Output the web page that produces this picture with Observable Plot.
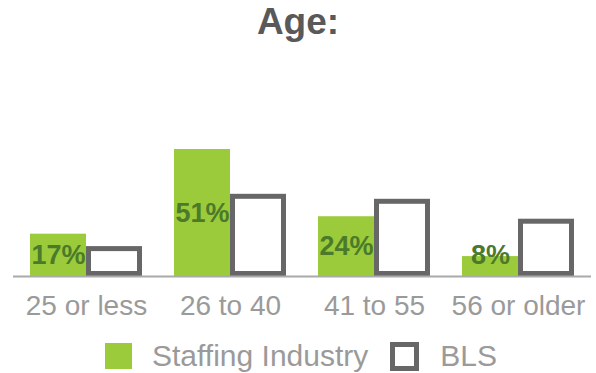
<!DOCTYPE html>
<html>
<head>
<meta charset="utf-8">
<script src="https://cdn.jsdelivr.net/npm/d3@7"></script>
<script src="https://cdn.jsdelivr.net/npm/@observablehq/plot@0.6"></script>
<style>
  html, body { margin: 0; padding: 0; background: #fff; overflow: hidden; }
  body { width: 596px; height: 373px; font-family: "Liberation Sans", Arial, sans-serif; }
  #title { height: 44px; line-height: 44px; text-align: center; font-size: 37px; font-weight: bold; color: #595959; }
  #legend { height: 48px; display: flex; justify-content: center; align-items: center; color: #9a9a9a; font-size: 30px; padding-left: 6px; }
  .sw { display: inline-block; box-sizing: border-box; }
  .item { display: flex; align-items: center; }
</style>
</head>
<body>
<div id="title">Age:</div>
<div id="chart"></div>
<div id="legend"></div>
<script>
const categories = ["25 or less", "26 to 40", "41 to 55", "56 or older"];
const staffing = [17, 51, 24, 8];
const bls = [11, 32, 30, 22];
const staffingLabels = ["17%", "51%", "24%", "8%"];
const seriesNames = ["Staffing Industry", "BLS"];

const GREEN = "#9bcb3b";
const LABEL_GREEN = "#4b7a2a";
const BOX = "#676767";

const staffingData = categories.map((c, i) => ({cat: c, v: staffing[i], label: staffingLabels[i]}));
const blsData = categories.map((c, i) => ({cat: c, v: bls[i]}));

const chart = Plot.plot({
  width: 596,
  height: 288,
  marginLeft: 13,
  marginRight: 5,
  marginTop: 105,
  marginBottom: 56,
  style: {fontFamily: "'Liberation Sans', Arial, sans-serif", background: "transparent", overflow: "visible"},
  x: {domain: categories, paddingInner: 32 / 144, paddingOuter: 17 / 144, axis: null},
  y: {domain: [0, 51], axis: null},
  marks: [
    Plot.barY(staffingData, {x: "cat", y: "v", fill: GREEN, insetRight: 56, insetLeft: 0}),
    Plot.barY(blsData, {x: "cat", y: "v", fill: "white", stroke: BOX, strokeWidth: 5, insetLeft: 58.5, insetRight: 2.5, insetBottom: 2.5}),
    Plot.ruleY([0], {stroke: "#aaaaaa", strokeWidth: 2}),
    Plot.text(staffingData, {x: "cat", y: d => Math.max(d.v / 2, 8.5), text: "label", dx: -28, fill: LABEL_GREEN, fontSize: 27, fontWeight: "bold"}),
    Plot.axisX({tickSize: 0, tickPadding: 19, fontSize: 28, fill: "#9a9a9a", label: null})
  ]
});
document.getElementById("chart").appendChild(chart);

const legend = document.getElementById("legend");
legend.innerHTML = `
  <span class="item"><span class="sw" style="width:27px;height:26px;background:${GREEN};"></span><span style="margin-left:20px;">${seriesNames[0]}</span></span>
  <span class="item" style="margin-left:22px;"><span class="sw" style="width:29px;height:29px;border:5px solid ${BOX};background:#fff;"></span><span style="margin-left:21px;">${seriesNames[1]}</span></span>
`;
</script>
</body>
</html>
